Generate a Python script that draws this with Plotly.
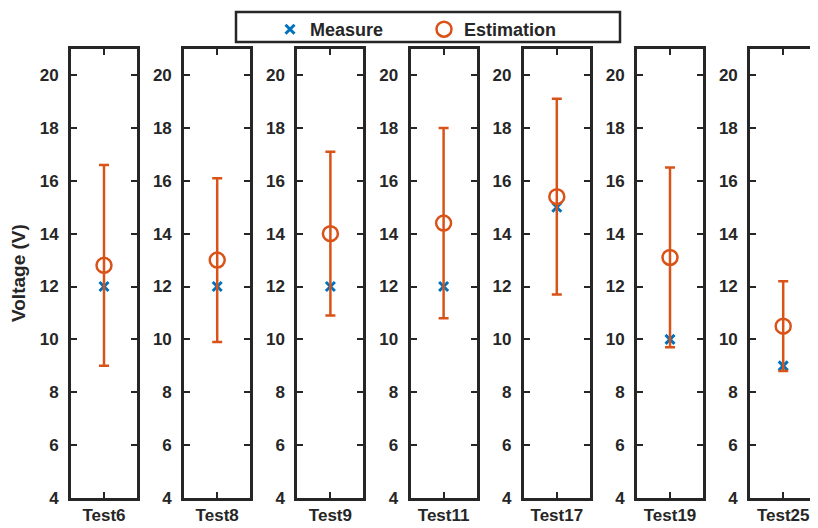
import plotly.graph_objects as go

tests = ["Test6", "Test8", "Test9", "Test11", "Test17", "Test19", "Test25"]
measure = [12, 12, 12, 12, 15, 10, 9]
estimation = [12.8, 13.0, 14.0, 14.4, 15.4, 13.1, 10.5]
est_low = [9.0, 9.9, 10.9, 10.8, 11.7, 9.7, 8.8]
est_high = [16.6, 16.1, 17.1, 18.0, 19.1, 16.5, 12.2]
y_ticks = [4, 6, 8, 10, 12, 14, 16, 18, 20]

# page body has an 8px margin, so the figure is drawn 8px smaller and offset
OFF = 8
W, H = 818 - OFF, 528 - OFF
BLUE = "#0072BD"
ORANGE = "#D95319"
INK = "#262626"
FONT = "Liberation Sans"

fig = go.Figure()

left0, step, pw = 71 - OFF, 113.2, 66
ybot, ytop = 498 - OFF, 48.6 - OFF

for i, t in enumerate(tests):
    ax = "" if i == 0 else str(i + 1)
    fig.add_trace(go.Scatter(
        x=[t], y=[measure[i]], mode="markers", name="Measure",
        marker=dict(symbol="x-thin", size=9, color=BLUE, line=dict(color=BLUE, width=3)),
        xaxis="x" + ax, yaxis="y" + ax, showlegend=(i == 0), legendgroup="m"))
    fig.add_trace(go.Scatter(
        x=[t], y=[estimation[i]], mode="markers", name="Estimation",
        marker=dict(symbol="circle-open", size=15, color=ORANGE, line=dict(color=ORANGE, width=2.5)),
        error_y=dict(type="data", symmetric=False,
                     array=[est_high[i] - estimation[i]],
                     arrayminus=[estimation[i] - est_low[i]],
                     color=ORANGE, thickness=2.5, width=5),
        xaxis="x" + ax, yaxis="y" + ax, showlegend=(i == 0), legendgroup="e"))

    x0 = (left0 + step * i) / W
    x1 = (left0 + step * i + pw) / W
    axis_common = dict(showline=True, linewidth=3, linecolor=INK, mirror="ticks",
                       ticks="inside", ticklen=6, tickwidth=1.5, tickcolor=INK,
                       showgrid=False, zeroline=False, automargin=False)
    fig.layout["xaxis" + ax] = dict(domain=[x0, min(x1, 1.0)], type="category",
                                    range=[-1, 1], anchor="y" + ax, ticklabelstandoff=0,
                                    tickfont=dict(family=FONT, size=17, color=INK, weight="bold"),
                                    **axis_common)
    fig.layout["yaxis" + ax] = dict(domain=[(H - ybot) / H, (H - ytop) / H], range=[4, 21],
                                    tickvals=y_ticks, anchor="x" + ax, ticklabelstandoff=6,
                                    tickfont=dict(family=FONT, size=17, color=INK, weight="bold"),
                                    **axis_common)

# legend box
fig.add_shape(type="rect", xref="paper", yref="paper",
              x0=(236 - OFF) / W, x1=(620 - OFF) / W,
              y0=(H - (42 - OFF)) / H, y1=(H - (12 - OFF)) / H,
              line=dict(color=INK, width=2.5), fillcolor="white", layer="below")

fig.add_annotation(text="<b>Voltage (V)</b>", textangle=-90, xref="paper", yref="paper",
                   x=(18 - OFF) / W, y=(H - (273 - OFF)) / H, showarrow=False,
                   xanchor="center", yanchor="middle",
                   font=dict(family=FONT, size=19, color=INK))

fig.update_layout(
    width=W, height=H, template="none",
    margin=dict(l=0, r=0, t=0, b=0),
    paper_bgcolor="white", plot_bgcolor="white",
    showlegend=True,
    legend=dict(orientation="h", x=(270 - OFF) / W, y=(H - (11 - OFF)) / H,
                xanchor="left", yanchor="top",
                bgcolor="rgba(0,0,0,0)", borderwidth=0, entrywidth=109,
                font=dict(family=FONT, size=18, color=INK, weight="bold")),
)

fig.write_html("out.html")
